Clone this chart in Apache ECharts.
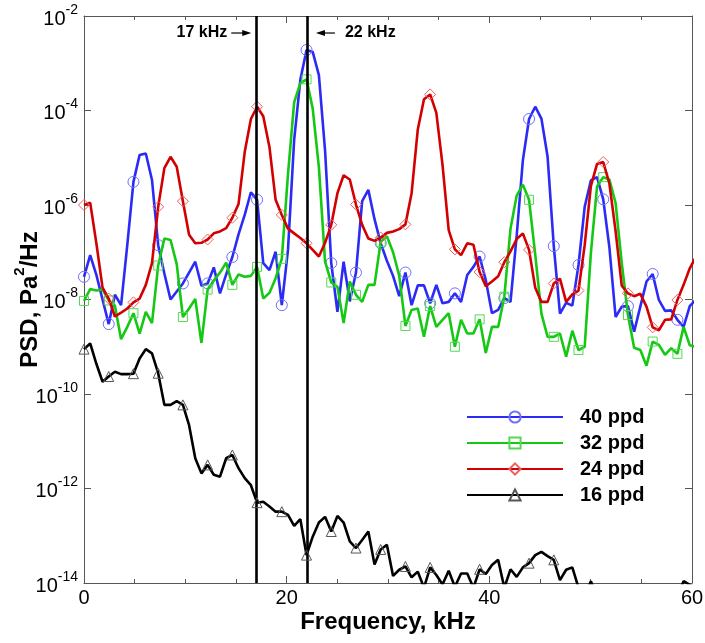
<!DOCTYPE html>
<html><head><meta charset="utf-8">
<script src="https://cdn.jsdelivr.net/npm/echarts@6/dist/echarts.min.js"></script>
<style>html,body{margin:0;padding:0;background:#fff}#c{width:705px;height:643px}</style>
</head><body><div id="c"></div>
<script>
// Frequency samples (kHz)
const frequencyKHz = [0,0.61,1.22,1.83,2.44,3.05,3.66,4.27,4.88,5.49,6.1,6.71,7.32,7.93,8.54,9.15,9.76,10.37,10.98,11.59,12.2,12.81,13.42,14.03,14.64,15.25,15.86,16.47,17.08,17.69,18.3,18.91,19.52,20.13,20.74,21.35,21.96,22.57,23.18,23.79,24.4,25.01,25.62,26.23,26.84,27.45,28.06,28.67,29.28,29.89,30.5,31.11,31.72,32.33,32.94,33.55,34.16,34.77,35.38,35.99,36.6,37.21,37.82,38.43,39.04,39.65,40.26,40.87,41.48,42.09,42.7,43.31,43.92,44.53,45.14,45.75,46.36,46.97,47.58,48.19,48.8,49.41,50.02,50.63,51.24,51.85,52.46,53.07,53.68,54.29,54.9,55.51,56.12,56.73,57.34,57.95,58.56,59.17,59.78,60.39];

const seriesNames = ['40 ppd', '32 ppd', '24 ppd', '16 ppd'];

// log10 of PSD (Pa^2/Hz)
const log10Psd40ppd = [-7.52,-7.06,-7.48,-8.0,-8.52,-7.9,-8.12,-6.85,-5.51,-4.94,
 -4.91,-5.47,-6.85,-7.45,-8.0,-7.83,-7.66,-7.43,-7.2,-7.71,
 -7.66,-7.32,-7.87,-7.47,-7.1,-6.62,-6.21,-5.73,-5.89,-7.23,
 -7.38,-6.99,-8.12,-6.95,-4.62,-3.35,-2.72,-2.76,-3.25,-4.85,
 -7.23,-8.26,-7.2,-8.04,-7.43,-5.92,-5.68,-6.3,-6.81,-7.18,
 -7.5,-7.93,-7.43,-8.12,-7.7,-7.7,-8.08,-7.69,-8.08,-8.05,
 -7.87,-8.05,-7.48,-7.31,-7.09,-7.59,-8.29,-8.22,-7.97,-8.05,
 -6.65,-5.05,-4.18,-3.92,-4.17,-4.98,-6.87,-8.3,-8.07,-8.13,
 -7.27,-6.04,-5.48,-5.41,-5.88,-6.9,-8.37,-8.15,-8.14,-8.68,
 -8.15,-7.62,-7.46,-8.01,-8.24,-8.23,-8.43,-8.58,-8.14,-8.0];

const log10Psd32ppd = [-8.03,-7.78,-7.81,-7.79,-8.02,-8.13,-8.84,-8.58,-8.29,-8.72,
 -8.26,-8.5,-7.28,-6.71,-6.74,-7.25,-8.37,-8.19,-7.99,-8.92,
 -7.79,-7.6,-7.43,-7.22,-7.69,-7.47,-7.52,-7.5,-7.31,-7.98,
 -7.86,-7.55,-7.14,-5.35,-3.83,-3.42,-3.34,-3.96,-5.2,-7.2,
 -7.64,-7.73,-8.5,-7.62,-7.9,-8.05,-7.69,-7.69,-6.78,-6.66,
 -7.0,-7.5,-8.56,-8.22,-8.19,-8.79,-8.14,-8.58,-8.43,-8.29,
 -9.0,-8.43,-8.72,-8.72,-8.42,-9.13,-8.58,-8.58,-7.94,-6.5,
 -5.8,-5.57,-5.89,-7.05,-8.3,-8.79,-8.79,-8.72,-9.21,-8.66,
 -9.07,-9.0,-7.02,-5.61,-5.41,-5.46,-5.96,-7.23,-8.33,-9.02,
 -9.07,-9.4,-8.89,-8.96,-9.17,-9.03,-9.15,-8.58,-8.97,-9.0];

const log10Psd24ppd = [-6.0,-5.95,-6.81,-7.75,-7.98,-8.36,-8.28,-8.19,-8.06,-7.98,
 -7.69,-7.23,-6.04,-5.22,-4.98,-5.19,-5.92,-6.63,-6.81,-6.8,
 -6.73,-6.6,-6.56,-6.49,-6.27,-5.98,-4.88,-4.18,-3.92,-4.12,
 -4.77,-5.89,-6.21,-6.5,-6.6,-6.7,-6.81,-6.95,-7.09,-6.8,
 -6.42,-5.75,-5.37,-5.46,-5.99,-6.42,-6.71,-6.76,-6.69,-6.59,
 -6.56,-6.51,-6.41,-5.75,-4.4,-3.76,-3.66,-4.05,-5.15,-6.53,
 -6.94,-7.06,-6.81,-6.84,-7.42,-7.72,-7.62,-7.51,-7.21,-6.98,
 -6.72,-6.6,-6.95,-7.75,-8.05,-8.05,-7.66,-7.56,-8.05,-7.89,
 -7.81,-6.85,-5.6,-5.13,-5.09,-5.55,-6.55,-7.71,-7.87,-7.93,
 -7.88,-8.15,-8.59,-8.65,-8.43,-8.42,-8.01,-7.69,-7.34,-7.1];

const log10Psd16ppd = [-9.05,-8.93,-9.36,-9.74,-9.63,-9.53,-9.58,-9.58,-9.57,-9.25,
 -9.05,-9.14,-9.56,-10.23,-10.23,-10.15,-10.23,-10.66,-11.36,-11.68,
 -11.5,-11.71,-11.75,-11.36,-11.29,-11.57,-11.78,-11.93,-12.3,-12.28,
 -12.38,-12.49,-12.49,-12.56,-12.79,-12.65,-13.41,-13.02,-12.72,-12.6,
 -12.91,-12.58,-12.72,-13.12,-13.26,-13.09,-12.91,-13.61,-13.29,-13.19,
 -13.85,-13.72,-13.65,-13.88,-13.76,-14.1,-13.67,-13.83,-14.03,-13.74,
 -14.08,-13.8,-13.8,-14.1,-13.71,-13.81,-13.62,-13.51,-14.1,-13.71,
 -13.87,-13.67,-13.58,-13.41,-13.34,-13.43,-13.51,-13.94,-13.72,-13.67,
 -14.1,-14.3,-13.96,-14.3,-14.3,-14.3,-14.3,-14.3,-14.3,-14.3,
 -14.3,-14.3,-14.3,-14.3,-14.3,-14.3,-14.3,-13.96,-14.04,-14.1];

const xTickValues = [0, 20, 40, 60];
const yTickExponents = [-14, -12, -10, -8, -6, -4, -2];
const markerFreqs = [17, 22];
const markerLabels = ['17 kHz', '22 kHz'];

const FONT = '"Liberation Sans", Arial, Helvetica, sans-serif';
const lineColors = ['#2b2bf5', '#14c814', '#d20000', '#000000'];
const symColors = ['#7070ff', '#55d855', '#ee6060', '#555555'];
const symbols = ['circle', 'rect', 'diamond', 'triangle'];
const symSizes = [11, 9, 11, 10];
const allData = [log10Psd40ppd, log10Psd32ppd, log10Psd24ppd, log10Psd16ppd];

const chart = echarts.init(document.getElementById('c'), null, {renderer: 'canvas'});

const series = allData.map((arr, s) => ({
  name: seriesNames[s],
  type: 'line',
  xAxisIndex: 0, yAxisIndex: 0,
  clip: true,
  symbol: symbols[s],
  symbolSize: symSizes[s],
  showSymbol: true,
  animation: false,
  lineStyle: {color: lineColors[s], width: 2.6},
  itemStyle: {color: 'rgba(255,255,255,0)', borderColor: symColors[s], borderWidth: 1},
  emphasis: {disabled: true},
  data: frequencyKHz.map((f, i) => (i % 4 === 0 ? {value: [f, arr[i]]} : {value: [f, arr[i]], symbol: 'none'})),
  z: 2 + s
}));
series[0].markLine = {
  silent: true, symbol: 'none', animation: false,
  label: {show: false},
  lineStyle: {color: '#000', width: 2.6, type: 'solid'},
  data: markerFreqs.map(f => ({xAxis: f}))
};

const axisLineStyle = {color: '#555', width: 1};
const yLabelFormatter = v => (yTickExponents.indexOf(v) >= 0 ? '{b|10}{s|' + v + '}' : '');

chart.setOption({
  animation: false,
  backgroundColor: '#fff',
  grid: {left: 84, right: 13, top: 16, bottom: 60, containLabel: false, outerBoundsMode: 'none'},
  legend: {
    orient: 'vertical', left: 466, top: 407, padding: 0,
    itemWidth: 96, itemHeight: 14, itemGap: 6,
    data: seriesNames,
    textStyle: {fontFamily: FONT, fontSize: 20, fontWeight: 'bold', color: '#000', lineHeight: 20, padding: [0, 0, 0, 12]},
    selectedMode: false
  },
  xAxis: [{
    type: 'value', min: 0, max: 60, interval: 20, position: 'bottom',
    axisLine: {show: true, onZero: false, lineStyle: axisLineStyle},
    axisTick: {show: true, inside: true, length: 7, lineStyle: axisLineStyle},
    minorTick: {show: true, splitNumber: 4, length: 4, lineStyle: axisLineStyle},
    splitLine: {show: false},
    axisLabel: {fontFamily: FONT, fontSize: 20, color: '#000', margin: 5,
      formatter: v => xTickValues.indexOf(v) >= 0 ? String(v) : ''},
    name: 'Frequency, kHz', nameLocation: 'middle', nameGap: 27, nameMoveOverlap: false,
    nameTextStyle: {fontFamily: FONT, fontSize: 24, fontWeight: 'bold', color: '#000', verticalAlign: 'top'}
  }, {
    type: 'value', min: 0, max: 60, interval: 20, position: 'top',
    axisLine: {show: true, onZero: false, lineStyle: axisLineStyle},
    axisTick: {show: true, inside: true, length: 7, lineStyle: axisLineStyle},
    minorTick: {show: true, splitNumber: 4, length: 4, lineStyle: axisLineStyle},
    splitLine: {show: false}, axisLabel: {show: false}
  }],
  yAxis: [{
    type: 'value', min: -14, max: -2, interval: 2, position: 'left',
    axisLine: {show: true, onZero: false, lineStyle: axisLineStyle},
    axisTick: {show: true, inside: true, length: 7, lineStyle: axisLineStyle},
    splitLine: {show: false},
    axisLabel: {margin: 6, formatter: yLabelFormatter,
      rich: {
        b: {fontFamily: FONT, fontSize: 20, color: '#000', lineHeight: 26, verticalAlign: 'bottom'},
        s: {fontFamily: FONT, fontSize: 14, color: '#000', lineHeight: 14, verticalAlign: 'top'}
      }},
    name: '{t|PSD, Pa}{s|2}{t|/Hz}', nameLocation: 'middle', nameGap: 42, nameRotate: 90, nameMoveOverlap: false,
    nameTextStyle: {
      rich: {
        t: {fontFamily: FONT, fontSize: 24, fontWeight: 'bold', color: '#000', lineHeight: 30, verticalAlign: 'bottom'},
        s: {fontFamily: FONT, fontSize: 15, fontWeight: 'bold', color: '#000', lineHeight: 16, verticalAlign: 'top'}
      }
    }
  }, {
    type: 'value', min: -14, max: -2, interval: 2, position: 'right',
    axisLine: {show: true, onZero: false, lineStyle: axisLineStyle},
    axisTick: {show: true, inside: true, length: 7, lineStyle: axisLineStyle},
    splitLine: {show: false}, axisLabel: {show: false}
  }],
  series: series
});

// Annotations for the two marked frequencies
const annY = -2.36;
const p0 = chart.convertToPixel({gridIndex: 0}, [markerFreqs[0], annY]);
const p1 = chart.convertToPixel({gridIndex: 0}, [markerFreqs[1], annY]);
const annFont = 'bold 16px ' + FONT;
chart.setOption({
  graphic: [
    {type: 'text', x: p0[0] - 29, y: p0[1], z: 100,
      style: {text: markerLabels[0], font: annFont, fill: '#000', align: 'right', verticalAlign: 'middle', textAlign: 'right', textVerticalAlign: 'middle'}},
    {type: 'line', z: 100, shape: {x1: p0[0] - 25, y1: p0[1], x2: p0[0] - 12, y2: p0[1]}, style: {stroke: '#000', lineWidth: 1.2}},
    {type: 'polygon', z: 100, shape: {points: [[p0[0] - 14, p0[1] - 3], [p0[0] - 5, p0[1]], [p0[0] - 14, p0[1] + 3]]}, style: {fill: '#000'}},
    {type: 'polygon', z: 100, shape: {points: [[p1[0] + 9, p1[1]], [p1[0] + 18, p1[1] - 3], [p1[0] + 18, p1[1] + 3]]}, style: {fill: '#000'}},
    {type: 'line', z: 100, shape: {x1: p1[0] + 16, y1: p1[1], x2: p1[0] + 28, y2: p1[1]}, style: {stroke: '#000', lineWidth: 1.2}},
    {type: 'text', x: p1[0] + 38, y: p1[1], z: 100,
      style: {text: markerLabels[1], font: annFont, fill: '#000', align: 'left', verticalAlign: 'middle', textAlign: 'left', textVerticalAlign: 'middle'}}
  ]
});
</script>
</body></html>
